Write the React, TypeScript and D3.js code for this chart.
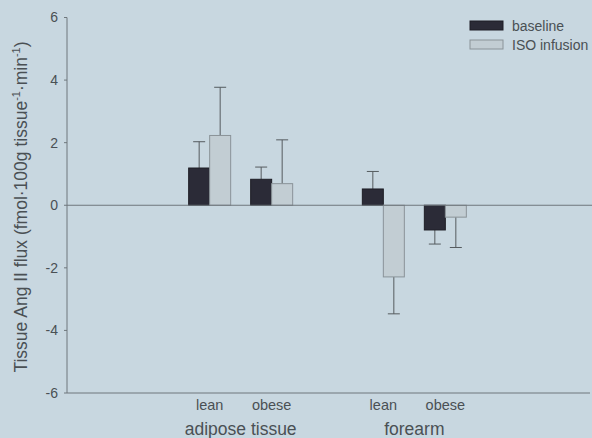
import React from "react";
import * as d3 from "d3";

// Ang II flux by tissue region and subject group (mean, one-sided SE)
const regions = ["adipose tissue", "forearm"];
const subjects = ["lean", "obese"];
const seriesNames = ["baseline", "ISO infusion"];
const baselineMean = [1.19, 0.83, 0.52, -0.79];
const baselineSE = [0.84, 0.39, 0.56, 0.45];
const isoMean = [2.23, 0.69, -2.29, -0.38];
const isoSE = [1.54, 1.4, 1.18, 0.97];
const yTicks = [-6, -4, -2, 0, 2, 4, 6];

const W = 592;
const H = 438;
const BG = "#c8d7e0";
const DARK = "#2b2b37";
const LIGHT = "#c2cdd3";
const LINE = "#6f777c";
const TEXT = "#4a5054";
const FONT = "'Liberation Sans', Arial, sans-serif";

export default function App() {
  const left = 67;
  const right = 590;
  const top = 17.5;
  const bottom = 393;

  const y = d3.scaleLinear().domain([-6, 6]).range([bottom, top]);
  const xRegion = d3.scalePoint<string>().domain(regions).range([left, 588]).padding(1);
  const xSubject = d3.scaleBand<string>().domain(subjects).range([-62, 62]).paddingInner(0);
  const xSeries = d3.scaleBand<string>().domain(seriesNames).range([-21, 21]);

  const series = [
    { name: seriesNames[0], mean: baselineMean, se: baselineSE, fill: DARK, stroke: "#1e1e26" },
    { name: seriesNames[1], mean: isoMean, se: isoSE, fill: LIGHT, stroke: "#8a9398" },
  ];

  const cells: { cx: number; region: string; subject: string; idx: number }[] = [];
  regions.forEach((r, ri) =>
    subjects.forEach((s, si) => {
      const cx = (xRegion(r) as number) + (xSubject(s) as number) + xSubject.bandwidth() / 2;
      cells.push({ cx, region: r, subject: s, idx: ri * subjects.length + si });
    })
  );

  const y0 = y(0);
  const bw = xSeries.bandwidth();
  const cap = 6;

  return (
    <svg
      width={W}
      height={H}
      style={{ position: "absolute", left: 0, top: 0, background: BG, fontFamily: FONT }}
    >
      <rect x={0} y={0} width={W} height={H} fill={BG} />

      {/* bars and error bars */}
      {cells.map((c) =>
        series.map((s) => {
          const v = s.mean[c.idx];
          const e = s.se[c.idx];
          const bx = c.cx + (xSeries(s.name) as number);
          const yv = y(v);
          const yErr = y(v + Math.sign(v) * e);
          const mid = bx + bw / 2;
          return (
            <g key={c.idx + s.name}>
              <line x1={mid} x2={mid} y1={yv} y2={yErr} stroke="#555b5f" strokeWidth={1} />
              <line x1={mid - cap} x2={mid + cap} y1={yErr} y2={yErr} stroke="#555b5f" strokeWidth={1} />
              <rect
                x={bx}
                y={Math.min(yv, y0)}
                width={bw}
                height={Math.abs(yv - y0)}
                fill={s.fill}
                stroke={s.stroke}
                strokeWidth={1}
              />
            </g>
          );
        })
      )}

      {/* axes */}
      <line x1={left} x2={left} y1={top} y2={bottom} stroke={LINE} strokeWidth={1} />
      <line x1={left} x2={right} y1={bottom} y2={bottom} stroke={LINE} strokeWidth={1} />
      <line x1={left} x2={W} y1={y0} y2={y0} stroke={LINE} strokeWidth={1} />
      {yTicks.map((t) => (
        <g key={t}>
          <line x1={left - 3} x2={left} y1={y(t)} y2={y(t)} stroke={LINE} />
          <text x={58} y={y(t)} dy="0.35em" textAnchor="end" fontSize={14} fill={TEXT}>
            {t}
          </text>
        </g>
      ))}

      {/* category labels */}
      {cells.map((c) => (
        <text key={"l" + c.idx} x={c.cx} y={410} textAnchor="middle" fontSize={14.5} fill={TEXT}>
          {c.subject}
        </text>
      ))}
      {regions.map((r) => (
        <text key={r} x={xRegion(r) as number} y={435} textAnchor="middle" fontSize={17.5} fill={TEXT}>
          {r}
        </text>
      ))}

      {/* y axis title */}
      <text
        transform={`translate(27,${207}) rotate(-90)`}
        textAnchor="middle"
        fontSize={17.5}
        fill={TEXT}
      >
        Tissue Ang II flux (fmol·100g tissue
        <tspan fontSize={11} dy={-7}>-1</tspan>
        <tspan dy={7}>·min</tspan>
        <tspan fontSize={11} dy={-7}>-1</tspan>
        <tspan dy={7}>)</tspan>
      </text>

      {/* legend */}
      {series.map((s, i) => (
        <g key={s.name} transform={`translate(470,${21 + i * 19})`}>
          <rect x={0} y={0} width={33} height={9} fill={s.fill} stroke={s.stroke} />
          <text x={42} y={9.5} fontSize={14} fill={TEXT}>
            {s.name}
          </text>
        </g>
      ))}
    </svg>
  );
}
